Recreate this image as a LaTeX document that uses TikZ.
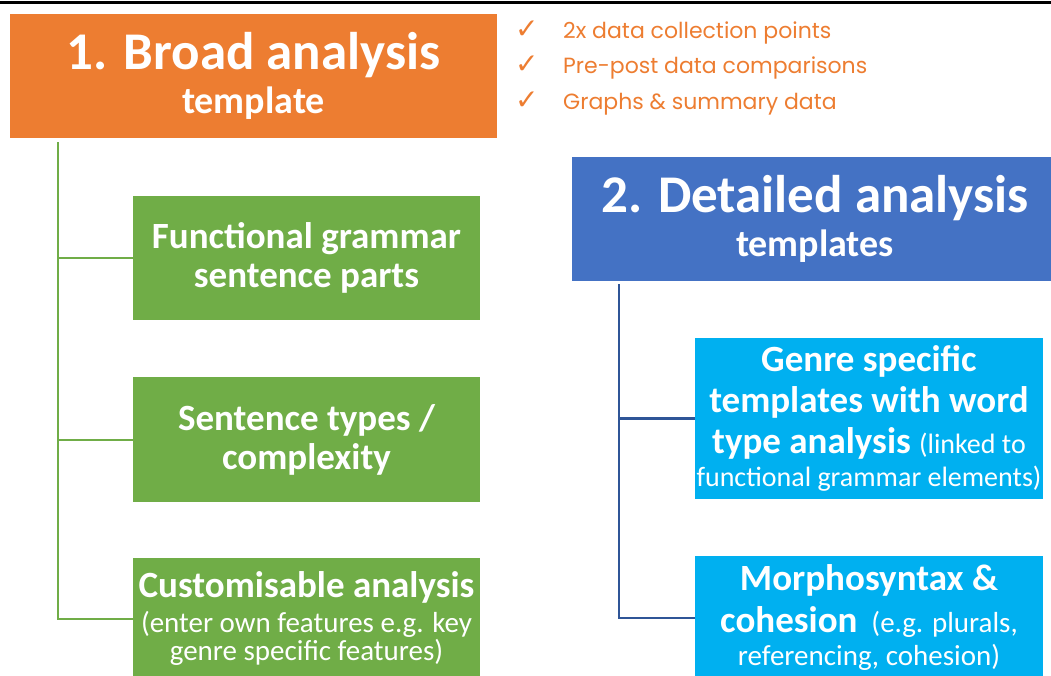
\documentclass[tikz,border=0pt]{standalone}
\usepackage{fontspec}
\setmainfont{Carlito}
\newfontfamily\tickfont{Poppins}
\newfontfamily\symbfont{DejaVu Sans}
\usetikzlibrary{positioning}

\definecolor{broadorange}{HTML}{ED7D31}
\definecolor{broadgreen}{HTML}{70AD47}
\definecolor{detailblue}{HTML}{4472C4}
\definecolor{detailcyan}{HTML}{00B0F0}
\definecolor{lineblue}{HTML}{2F5597}

\newcommand{\titlesize}{\fontsize{53}{50}\selectfont}
\newcommand{\notesize}{\mdseries\fontsize{29}{30}\selectfont}
\newcommand{\smallnote}{\mdseries\fontsize{28}{30}\selectfont}
\newcommand{\tickmark}{\makebox[48pt][l]{\symbfont\fontsize{28}{28}\selectfont ✓}}

\tikzstyle{headbox} = [rectangle, inner sep=0pt, text=white, align=center, minimum height=124pt, font=\bfseries\fontsize{38}{44}\selectfont]
\tikzstyle{broadbox} = [rectangle, inner sep=0pt, fill=broadgreen, text=white, align=center, minimum width=347pt, font=\bfseries\fontsize{37}{39}\selectfont]
\tikzstyle{detailbox} = [rectangle, inner sep=0pt, fill=detailcyan, text=white, align=center, minimum width=348pt]
\tikzstyle{tickitem} = [inner sep=0pt, anchor=base west, text=broadorange, font=\tickfont\fontsize{22}{26}\selectfont]
\tikzstyle{greenline} = [draw=broadgreen, line width=2pt]
\tikzstyle{blueline} = [draw=lineblue, line width=2.5pt]

\begin{document}
\begin{tikzpicture}[x=1pt, y=-1pt]
    \useasboundingbox (0,0) rectangle (1051,676);
    \clip (0,0) rectangle (1051,676);
    \draw [line width=3pt] (0,3) -- (1051,3);

    % the two headings
    \node (broad) [headbox, fill=broadorange, minimum width=487pt] at (253.5,76) {{\titlesize 1. Broad analysis}\\template};
    \node (detail) [headbox, fill=detailblue, minimum width=486pt] at (815,219) {{\titlesize 2. Detailed analysis}\\templates};

    % checklist
    \node (tick1) [tickitem] at (515,39) {\tickmark 2x data collection points};
    \node (tick2) [tickitem] at (515,74) {\tickmark Pre-post data comparisons};
    \node (tick3) [tickitem] at (515,110) {\tickmark Graphs \& summary data};

    % broad analysis parts
    \node (fgram) [broadbox, minimum height=124pt] at (306.5,258) {Functional grammar\\sentence parts};
    \node (stypes) [broadbox, minimum height=125pt] at (306.5,439.5) {Sentence types /\\complexity};
    \node (custom) [broadbox, minimum height=122pt, font=\bfseries\fontsize{37}{37}\selectfont] at (306.5,619) {Customisable analysis\\[-2pt]{\notesize (enter own features e.g. key}\\[-9pt]{\notesize genre specific features)}};

    % detailed analysis parts
    \node (genre) [detailbox, minimum height=161pt, font=\bfseries\fontsize{37}{41}\selectfont] at (869,418.5) {Genre specific\\templates with word\\type analysis {\smallnote (linked to}\\[-8pt]{\smallnote functional grammar elements)}};
    \node (morph) [detailbox, minimum height=124pt, font=\bfseries\fontsize{37}{42}\selectfont] at (869,618) {Morphosyntax \&\\cohesion\hspace{14pt}{\notesize (e.g. plurals,}\\[-9pt]{\notesize referencing, cohesion)}};

    \coordinate (gtop) at ([xshift=48pt, yshift=-4pt]broad.south west);
    \coordinate (btop) at ([xshift=47pt, yshift=-3pt]detail.south west);

    \draw [greenline] (gtop) |- (fgram.west);
    \draw [greenline] (gtop) |- (stypes.west);
    \draw [greenline] (gtop) |- (custom.west);
    \draw [blueline] (btop) |- (genre.west);
    \draw [blueline] (btop) |- (morph.west);
\end{tikzpicture}
\end{document}
